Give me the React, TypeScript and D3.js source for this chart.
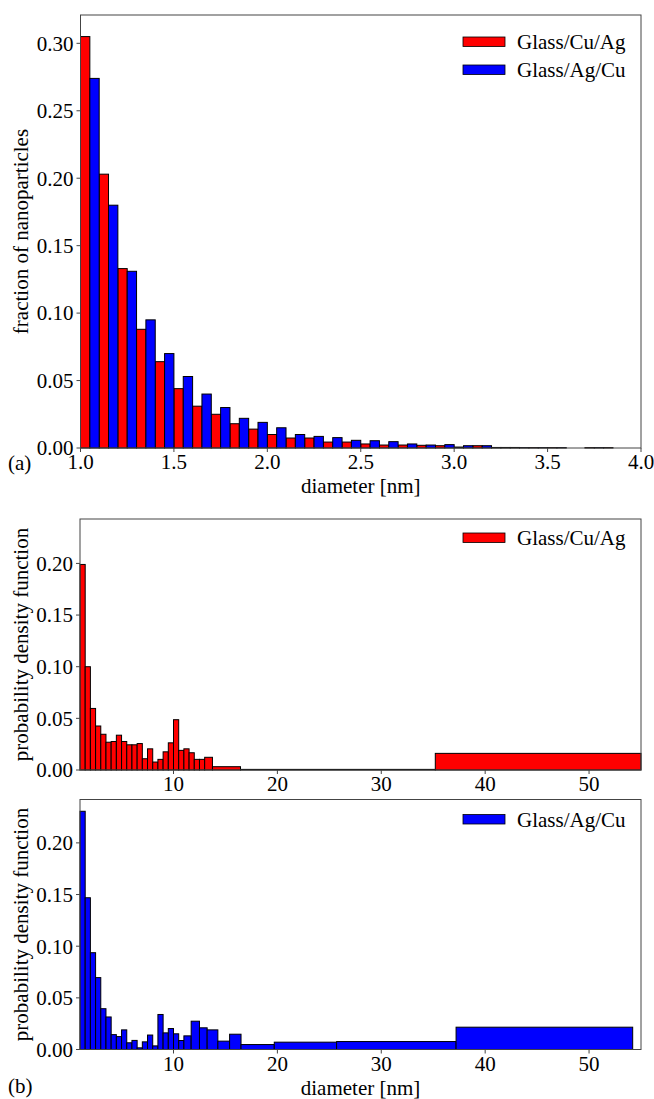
import { useEffect, useRef } from 'react';
import * as d3 from 'd3';

// (a) fraction of nanoparticles, bins of 0.1 nm, red at left half, blue at right half
const diameterBins = [1.0, 1.1, 1.2, 1.3, 1.4, 1.5, 1.6, 1.7, 1.8, 1.9, 2.0, 2.1, 2.2, 2.3, 2.4, 2.5, 2.6, 2.7, 2.8, 2.9, 3.0, 3.1, 3.2, 3.3, 3.4, 3.5, 3.6, 3.7, 3.8];
const fractionCuAg = [0.305, 0.203, 0.133, 0.088, 0.064, 0.044, 0.031, 0.025, 0.018, 0.014, 0.010, 0.0074, 0.0074, 0.0044, 0.0044, 0.0030, 0.0022, 0.0022, 0.0020, 0.0017, 0.0007, 0.0017, 0.0004, 0.0004, 0.0003, 0.0003, 0, 0.0003, 0.0003];
const fractionAgCu = [0.274, 0.180, 0.131, 0.095, 0.070, 0.053, 0.040, 0.030, 0.022, 0.019, 0.015, 0.010, 0.0086, 0.0077, 0.0057, 0.0054, 0.0047, 0.0030, 0.0022, 0.0025, 0.0017, 0.0017, 0.0004, 0.0003, 0.0003, 0.0003, 0, 0.0003, 0];
const fractionTicksX = [1.0, 1.5, 2.0, 2.5, 3.0, 3.5, 4.0];
const fractionTicksY = [0, 0.05, 0.1, 0.15, 0.2, 0.25, 0.3];

// (b) probability density, variable bin edges
const cuAgEdges = [1.0, 1.5, 2.0, 2.5, 3.0, 3.5, 4.0, 4.5, 5.0, 5.5, 6.0, 6.5, 7.0, 7.5, 8.0, 8.5, 9.0, 9.5, 10.0, 10.5, 11.0, 11.5, 12.0, 12.5, 13.0, 13.75, 16.45, 35.2, 55.0];
const cuAgDensity = [0.199, 0.100, 0.0596, 0.0426, 0.0346, 0.0269, 0.0276, 0.0337, 0.0276, 0.0244, 0.0244, 0.0256, 0.0109, 0.0205, 0.0077, 0.0103, 0.0176, 0.0263, 0.0487, 0.0190, 0.0205, 0.0167, 0.0103, 0.0103, 0.0123, 0.0032, 0.0006, 0.0161];
const agCuEdges = [1.0, 1.5, 2.0, 2.5, 3.0, 3.5, 4.0, 4.5, 5.0, 5.5, 6.0, 6.5, 7.0, 7.5, 8.0, 8.5, 9.0, 9.5, 10.0, 10.5, 11.0, 11.7, 12.5, 13.24, 14.27, 15.4, 16.5, 19.7, 25.7, 37.2, 54.2];
const agCuDensity = [0.2306, 0.1469, 0.0937, 0.0696, 0.0395, 0.0315, 0.0144, 0.0125, 0.019, 0.0065, 0.0088, 0.0016, 0.0074, 0.0140, 0.0035, 0.0339, 0.0161, 0.0203, 0.0152, 0.0087, 0.0132, 0.0274, 0.021, 0.019, 0.0081, 0.0148, 0.0048, 0.0071, 0.0077, 0.0216];
const pdfTicksX = [10, 20, 30, 40, 50];
const pdfTicksY = [0, 0.05, 0.1, 0.15, 0.2];

const seriesNames = ['Glass/Cu/Ag', 'Glass/Ag/Cu'];
const seriesColors = ['#ff0000', '#0000ff'];

const FONT = '"Liberation Serif", "DejaVu Serif", serif';
const FONT_SIZE = '21px';

const App = () => {
  const svgRef = useRef(null);

  const drawChart = () => {
    const svg = d3.select(svgRef.current);
    svg.selectAll('*').remove();

    // 畫座標軸框與刻度
    const drawFrame = (x, y, box, xTicks, yTicks, xFmt, yFmt) => {
      const g = svg.append('g');
      g.append('rect')
        .attr('x', box.left)
        .attr('y', box.top)
        .attr('width', box.right - box.left)
        .attr('height', box.bottom - box.top)
        .attr('fill', 'none')
        .attr('stroke', '#444')
        .attr('stroke-width', 1);

      xTicks.forEach((t) => {
        g.append('line')
          .attr('x1', x(t))
          .attr('x2', x(t))
          .attr('y1', box.bottom)
          .attr('y2', box.bottom + 4)
          .attr('stroke', '#444');
        g.append('text')
          .attr('x', x(t))
          .attr('y', box.bottom + 21)
          .attr('text-anchor', 'middle')
          .style('font-family', FONT)
          .style('font-size', FONT_SIZE)
          .text(xFmt(t));
      });

      yTicks.forEach((t) => {
        g.append('line')
          .attr('x1', box.left - 4)
          .attr('x2', box.left)
          .attr('y1', y(t))
          .attr('y2', y(t))
          .attr('stroke', '#444');
        g.append('text')
          .attr('x', box.left - 7)
          .attr('y', y(t))
          .attr('dy', '0.35em')
          .attr('text-anchor', 'end')
          .style('font-family', FONT)
          .style('font-size', FONT_SIZE)
          .text(yFmt(t));
      });
    };

    const yLabel = (text, cy) => {
      svg.append('text')
        .attr('transform', `translate(21,${cy}) rotate(-90)`)
        .attr('dy', '0.35em')
        .attr('text-anchor', 'middle')
        .style('font-family', FONT)
        .style('font-size', FONT_SIZE)
        .text(text);
    };

    const xLabel = (text, box) => {
      svg.append('text')
        .attr('x', (box.left + box.right) / 2)
        .attr('y', box.bottom + 45)
        .attr('text-anchor', 'middle')
        .style('font-family', FONT)
        .style('font-size', FONT_SIZE)
        .text(text);
    };

    const legend = (items, top) => {
      items.forEach((i, k) => {
        const yy = top + k * 28;
        svg.append('rect')
          .attr('x', 463)
          .attr('y', yy)
          .attr('width', 42)
          .attr('height', 9.5)
          .attr('fill', seriesColors[i])
          .attr('stroke', '#000')
          .attr('stroke-width', 0.8);
        svg.append('text')
          .attr('x', 517)
          .attr('y', yy + 5)
          .attr('dy', '0.35em')
          .style('font-family', FONT)
          .style('font-size', FONT_SIZE)
          .text(seriesNames[i]);
      });
    };

    const panelLetter = (text, yy) => {
      svg.append('text')
        .attr('x', 8)
        .attr('y', yy)
        .style('font-family', FONT)
        .style('font-size', FONT_SIZE)
        .text(text);
    };

    // ---- (a) ----
    const boxA = { left: 80.5, right: 641, top: 15, bottom: 448 };
    const xA = d3.scaleLinear().domain([1.0, 4.0]).range([boxA.left, boxA.right]);
    const yA = d3.scaleLinear().domain([0, 0.321]).range([boxA.bottom, boxA.top]);
    const halfBin = 0.05;

    [fractionCuAg, fractionAgCu].forEach((vals, s) => {
      svg.append('g')
        .selectAll('rect')
        .data(diameterBins.map((d, i) => ({ d, v: vals[i] })).filter((e) => e.v > 0))
        .join('rect')
        .attr('x', (e) => xA(e.d + s * halfBin))
        .attr('y', (e) => yA(e.v))
        .attr('width', (e) => xA(e.d + halfBin) - xA(e.d))
        .attr('height', (e) => yA(0) - yA(e.v))
        .attr('fill', seriesColors[s])
        .attr('stroke', '#000')
        .attr('stroke-width', 1);
    });
    drawFrame(xA, yA, boxA, fractionTicksX, fractionTicksY, d3.format('.1f'), d3.format('.2f'));
    yLabel('fraction of nanoparticles', (boxA.top + boxA.bottom) / 2);
    xLabel('diameter [nm]', boxA);
    legend([0, 1], 37);
    panelLetter('(a)', 470);

    // ---- (b) 兩張機率密度圖 ----
    const pdfPanel = (edges, dens, s, box, yMax) => {
      const x = d3.scaleLinear().domain([1, 55]).range([box.left, box.right]);
      const y = d3.scaleLinear().domain([0, yMax]).range([box.bottom, box.top]);
      svg.append('g')
        .selectAll('rect')
        .data(dens.map((v, i) => ({ x0: edges[i], x1: edges[i + 1], v })))
        .join('rect')
        .attr('x', (e) => x(e.x0))
        .attr('y', (e) => y(e.v))
        .attr('width', (e) => x(e.x1) - x(e.x0))
        .attr('height', (e) => y(0) - y(e.v))
        .attr('fill', seriesColors[s])
        .attr('stroke', '#000')
        .attr('stroke-width', 1);
      drawFrame(x, y, box, pdfTicksX, pdfTicksY, d3.format('d'), d3.format('.2f'));
      yLabel('probability density function', (box.top + box.bottom) / 2);
    };

    const boxB1 = { left: 80, right: 641, top: 519, bottom: 770 };
    pdfPanel(cuAgEdges, cuAgDensity, 0, boxB1, 0.243);
    legend([0], 533);

    const boxB2 = { left: 80, right: 641, top: 799.5, bottom: 1049.5 };
    pdfPanel(agCuEdges, agCuDensity, 1, boxB2, 0.242);
    legend([1], 814.5);
    xLabel('diameter [nm]', boxB2);
    panelLetter('(b)', 1093);
  };

  useEffect(() => {
    document.body.style.margin = '0';
    drawChart();
  }, []);

  return (
    <svg ref={svgRef} width={654} height={1099} style={{ display: 'block', background: '#fff' }} />
  );
};

export default App;
